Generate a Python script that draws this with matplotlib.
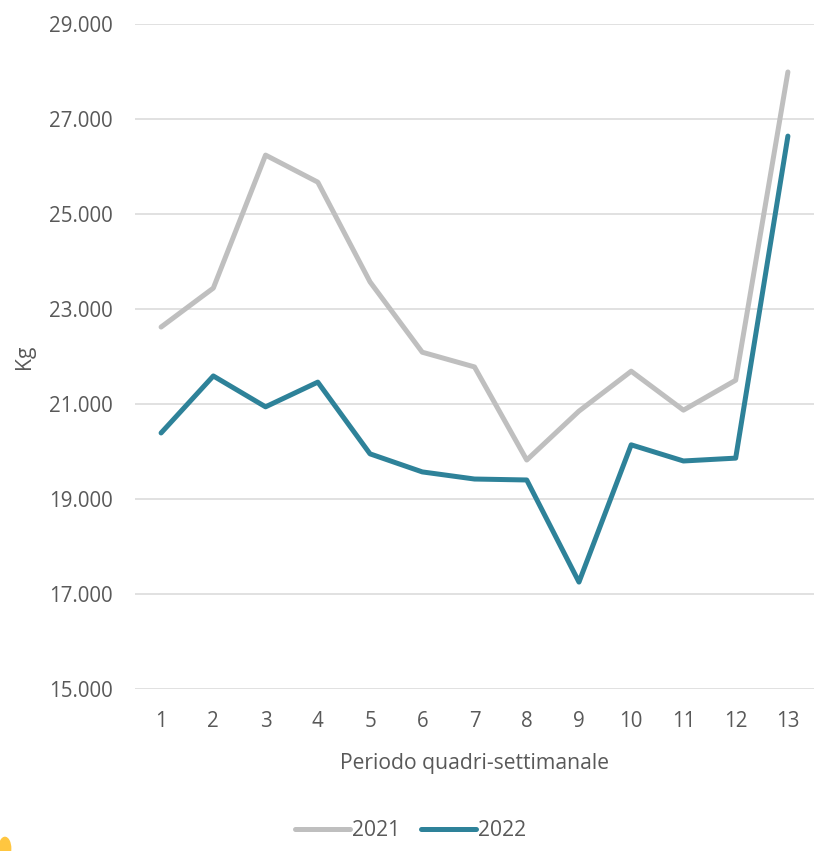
import matplotlib
matplotlib.use('Agg')
import numpy as np
import matplotlib.pyplot as plt
from matplotlib.patches import Ellipse

periods = list(range(1, 14))
kg_2021 = [22620, 23440, 26240, 25670, 23570, 22090, 21780, 19820, 20850, 21690, 20870, 21500, 27990]
kg_2022 = [20390, 21590, 20940, 21460, 19950, 19570, 19420, 19400, 17250, 20140, 19800, 19860, 26640]
y_ticks = [15000, 17000, 19000, 21000, 23000, 25000, 27000, 29000]

TEXT = "#595959"
GRID = "#D9D9D9"
C2021 = "#BFBFBF"
C2022 = "#2E8299"

plt.rcParams['font.family'] = ['Open Sans', 'DejaVu Sans']

fig = plt.figure(figsize=(8.21, 8.51), dpi=100, facecolor="white")
ax = fig.add_axes([0.1644, 0.1904, 0.8271, 0.7814])

l1, = ax.plot(periods, kg_2021, color=C2021, linewidth=3.6, solid_capstyle='round', solid_joinstyle='round', label="2021")
l2, = ax.plot(periods, kg_2022, color=C2022, linewidth=3.6, solid_capstyle='round', solid_joinstyle='round', label="2022")

ax.set_xlim(0.5, 13.5)
ax.set_ylim(15000, 29000)
ax.set_yticks(y_ticks)
ax.set_yticklabels([f"{v:,}".replace(",", ".") for v in y_ticks])
ax.set_xticks(periods)
ax.yaxis.grid(True, color=GRID, linewidth=1.1)
ax.set_axisbelow(True)
for s in ax.spines.values():
    s.set_visible(False)
ax.tick_params(axis='both', length=0, colors=TEXT, labelsize=14.8)
ax.tick_params(axis='y', pad=16)
ax.tick_params(axis='x', pad=16)

ax.set_xlabel("Periodo quadri-settimanale", color=TEXT, fontsize=15.2, labelpad=15)
ax.set_ylabel("Kg", color=TEXT, fontsize=15.2, labelpad=10)

leg = fig.legend(handles=[l1, l2], loc='center', bbox_to_anchor=(0.5, 0.024), ncol=2,
                 frameon=False, fontsize=15.2, handlelength=2.6, handletextpad=0.1,
                 columnspacing=1.0)
for t in leg.get_texts():
    t.set_color(TEXT)

# small yellow mark at the bottom-left corner
fig.patches.append(Ellipse((0.006, 0.003), 0.014, 0.026, transform=fig.transFigure,
                           color="#FFC640", figure=fig))

fig.savefig("out.png", dpi=100, facecolor="white")
